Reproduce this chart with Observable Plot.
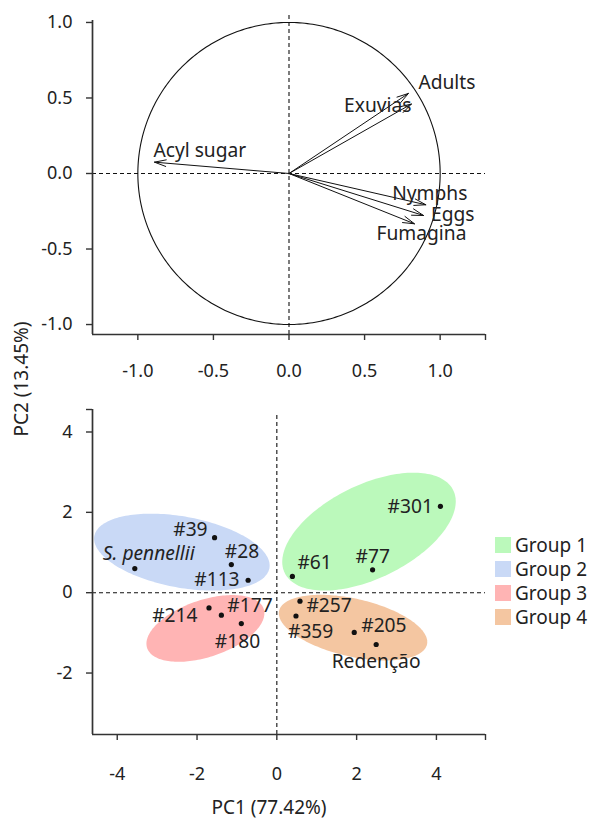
<!DOCTYPE html>
<html>
<head>
<meta charset="utf-8">
<script src="https://cdn.jsdelivr.net/npm/d3@7"></script>
<script src="https://cdn.jsdelivr.net/npm/@observablehq/plot@0.6"></script>
<style>
  body { margin: 0; background: #fff; font-family: "Noto Sans", sans-serif; color: #222; }
  #wrap { position: relative; width: 590px; height: 819px; overflow: hidden; }
  #wrap > svg { position: absolute; left: 0; }
  .lbl { position: absolute; font-size: 19px; line-height: 22px; white-space: nowrap; transform: translate(-50%, -50%); }
  .lbl.rot { transform: translate(-50%, -50%) rotate(-90deg); }
  #legend { position: absolute; left: 495px; top: 533px; font-size: 19px; }
  #legend .row { display: flex; align-items: center; height: 24px; line-height: 24px; }
  #legend .sw { width: 16px; height: 16px; margin-right: 4px; }
</style>
</head>
<body>
<div id="wrap"></div>
<script>
// ---------- data: loadings (top panel) ----------
const variables = ["Acyl sugar", "Adults", "Exuvias", "Nymphs", "Eggs", "Fumagina"];
const loadPC1 = [-0.89, 0.79, 0.81, 0.905, 0.89, 0.83];
const loadPC2 = [0.075, 0.53, 0.46, -0.207, -0.278, -0.333];

// ---------- data: scores (bottom panel) ----------
const samples = ["S. pennellii", "#39", "#28", "#113", "#214", "#177", "#180",
                 "#61", "#77", "#301", "#257", "#359", "#205", "Redenção"];
const scorePC1 = [-3.56, -1.56, -1.14, -0.72, -1.70, -1.39, -0.89, 0.39, 2.40, 4.10, 0.58, 0.48, 1.94, 2.49];
const scorePC2 = [0.60, 1.37, 0.70, 0.31, -0.38, -0.56, -0.77, 0.405, 0.57, 2.15, -0.21, -0.58, -0.99, -1.29];

// ---------- groups / ellipses ----------
const groups = ["Group 1", "Group 2", "Group 3", "Group 4"];
const groupColors = ["#bbf9bb", "#c9d9f6", "#ffb4b4", "#f4c6a1"];
const ellipseCX = [2.31, -2.38, -1.79, 1.91];
const ellipseCY = [1.52, 1.01, -0.89, -0.87];
const ellipseA = [2.35, 2.23, 1.54, 1.90];
const ellipseB = [1.165, 0.885, 0.71, 0.72];
const ellipseAngle = [25.9, -10.3, 18.4, -12.7];

// ---------- ticks ----------
const loadTicks = [-1, -0.5, 0, 0.5, 1];
const loadTickLabels = ["-1.0", "-0.5", "0.0", "0.5", "1.0"];
const scoreTicksX = [-4, -2, 0, 2, 4];
const scoreTickLabelsX = ["-4", "-2", "0", "2", "4"];
const scoreTicksY = [-2, 0, 2, 4];
const scoreTickLabelsY = ["-2", "0", "2", "4"];

// ---------- axis titles ----------
const xTitle = "PC1 (77.42%)";
const yTitle = "PC2 (13.45%)";

// ---------- layout / styling (not data) ----------
const loadDomainX = [-1.3, 1.3], loadDomainY = [-1.066, 1.013];
const scoreDomainX = [-4.62, 5.23], scoreDomainY = [-3.53, 4.56];
const loadLabelStyle = {
  "Acyl sugar": ["start", -1, -11],
  "Adults": ["start", 10, -11],
  "Exuvias": ["end", 0, 2],
  "Nymphs": ["middle", 4, -10.5],
  "Eggs": ["start", 7.5, -1],
  "Fumagina": ["middle", 7, 10.5]
};
const scoreLabelStyle = {
  "S. pennellii": ["start", -32, -15],
  "#39": ["end", -7, -7.5],
  "#28": ["start", -6.5, -12.5],
  "#113": ["end", -8.5, -0.5],
  "#214": ["end", -11.5, 8],
  "#177": ["start", 6, -9],
  "#180": ["start", -26.5, 18],
  "#61": ["start", 5, -14],
  "#77": ["start", -17, -12.5],
  "#301": ["end", -7.5, 1],
  "#257": ["start", 6.5, 4.5],
  "#359": ["start", -8, 16],
  "#205": ["start", 7, -7],
  "Redenção": ["start", -44.5, 17]
};

function ellipsePoints(cx, cy, a, b, deg, n = 180) {
  const th = deg * Math.PI / 180, c = Math.cos(th), s = Math.sin(th);
  return d3.range(n + 1).map(i => {
    const t = 2 * Math.PI * i / n;
    const ex = a * Math.cos(t), ey = b * Math.sin(t);
    return { x: cx + ex * c - ey * s, y: cy + ex * s + ey * c };
  });
}

const loadings = variables.map((name, i) => ({ name, pc1: loadPC1[i], pc2: loadPC2[i] }));
const scores = samples.map((name, i) => ({ name, pc1: scorePC1[i], pc2: scorePC2[i] }));
const unitCircle = ellipsePoints(0, 0, 1, 1, 0, 360);

const ink = "#111";
const axisInk = "#333";
const fontStyle = { fontFamily: "Noto Sans", fontSize: "18px", color: "#222", overflow: "visible", background: "transparent" };
const labelSize = 19.2;

function fmt(ticks, labels) {
  return d => { const i = ticks.indexOf(d); return i >= 0 ? labels[i] : ""; };
}

// ---------- top panel ----------
const topPlot = Plot.plot({
  width: 590, height: 390,
  marginLeft: 92, marginRight: 105, marginTop: 20, marginBottom: 56,
  x: { domain: loadDomainX },
  y: { domain: loadDomainY },
  style: fontStyle,
  marks: [
    Plot.line(unitCircle, { x: "x", y: "y", stroke: ink, strokeWidth: 1.1 }),
    Plot.ruleX([0], { stroke: ink, strokeDasharray: "4,3", strokeWidth: 1.1, y1: loadDomainY[0], y2: 1.06 }),
    Plot.ruleY([0], { stroke: ink, strokeDasharray: "4,3", strokeWidth: 1.1 }),
    Plot.arrow(loadings, { x1: d => 0, y1: d => 0, x2: "pc1", y2: "pc2", stroke: ink, strokeWidth: 1, headLength: 18, headAngle: 32 }),
    ...loadings.map(d => {
      const [anchor, dx, dy] = loadLabelStyle[d.name];
      return Plot.text([d], { x: "pc1", y: "pc2", text: "name", textAnchor: anchor, dx, dy, fill: "#222", fontSize: labelSize });
    }),
    Plot.axisX({ ticks: [...loadTicks, loadDomainX[1]], tickFormat: fmt(loadTicks, loadTickLabels), tickSize: 6, tickPadding: 24, label: null, stroke: axisInk, strokeWidth: 1.4 }),
    Plot.axisY({ ticks: loadTicks, tickFormat: fmt(loadTicks, loadTickLabels), tickSize: 6, tickPadding: 14, label: null, stroke: axisInk, strokeWidth: 1.4 }),
    Plot.ruleY([loadDomainY[0]], { stroke: axisInk, strokeWidth: 1.7 }),
    Plot.ruleX([loadDomainX[0]], { stroke: axisInk, strokeWidth: 1.7 })
  ]
});
topPlot.style.top = "0px";

// ---------- bottom panel ----------
const ellipses = groups.flatMap((g, i) =>
  ellipsePoints(ellipseCX[i], ellipseCY[i], ellipseA[i], ellipseB[i], ellipseAngle[i]).map(p => ({ ...p, group: g })));

const bottomPlot = Plot.plot({
  width: 590, height: 429,
  marginLeft: 92, marginRight: 105, marginTop: 19, marginBottom: 85,
  x: { domain: scoreDomainX },
  y: { domain: scoreDomainY },
  color: { domain: groups, range: groupColors },
  style: fontStyle,
  marks: [
    ...groups.map(g => Plot.line(ellipses.filter(p => p.group === g), { x: "x", y: "y", fill: "group", stroke: "none" })),
    Plot.ruleX([0], { stroke: ink, strokeDasharray: "4,3", strokeWidth: 1.1, y1: scoreDomainY[0], y2: 4.45 }),
    Plot.ruleY([0], { stroke: ink, strokeDasharray: "4,3", strokeWidth: 1.1 }),
    Plot.dot(scores, { x: "pc1", y: "pc2", r: 2.6, fill: ink, stroke: "none" }),
    ...scores.map(d => {
      const [anchor, dx, dy] = scoreLabelStyle[d.name];
      return Plot.text([d], { x: "pc1", y: "pc2", text: "name", textAnchor: anchor, dx, dy, fill: "#222", fontSize: labelSize,
        fontStyle: d.name === "S. pennellii" ? "italic" : "normal" });
    }),
    Plot.axisX({ ticks: [...scoreTicksX, scoreDomainX[1]], tickFormat: fmt(scoreTicksX, scoreTickLabelsX), tickSize: 6, tickPadding: 27, label: null, stroke: axisInk, strokeWidth: 1.4 }),
    Plot.axisY({ ticks: [...scoreTicksY, scoreDomainY[1]], tickFormat: fmt(scoreTicksY, scoreTickLabelsY), tickSize: 6, tickPadding: 14, label: null, stroke: axisInk, strokeWidth: 1.4 }),
    Plot.ruleY([scoreDomainY[0]], { stroke: axisInk, strokeWidth: 1.7 }),
    Plot.ruleX([scoreDomainX[0]], { stroke: axisInk, strokeWidth: 1.7 })
  ]
});
bottomPlot.style.top = "390px";

const wrap = document.getElementById("wrap");
wrap.appendChild(topPlot);
wrap.appendChild(bottomPlot);

// axis titles
const yl = document.createElement("div");
yl.className = "lbl rot"; yl.textContent = yTitle;
yl.style.left = "21px"; yl.style.top = "379px";
wrap.appendChild(yl);
const xl = document.createElement("div");
xl.className = "lbl"; xl.textContent = xTitle;
xl.style.left = "269px"; xl.style.top = "807px";
wrap.appendChild(xl);

// legend
const legend = document.createElement("div");
legend.id = "legend";
groups.forEach((g, i) => {
  const row = document.createElement("div"); row.className = "row";
  const sw = document.createElement("div"); sw.className = "sw"; sw.style.background = groupColors[i];
  const t = document.createElement("span"); t.textContent = g;
  row.appendChild(sw); row.appendChild(t); legend.appendChild(row);
});
wrap.appendChild(legend);
</script>
</body>
</html>
